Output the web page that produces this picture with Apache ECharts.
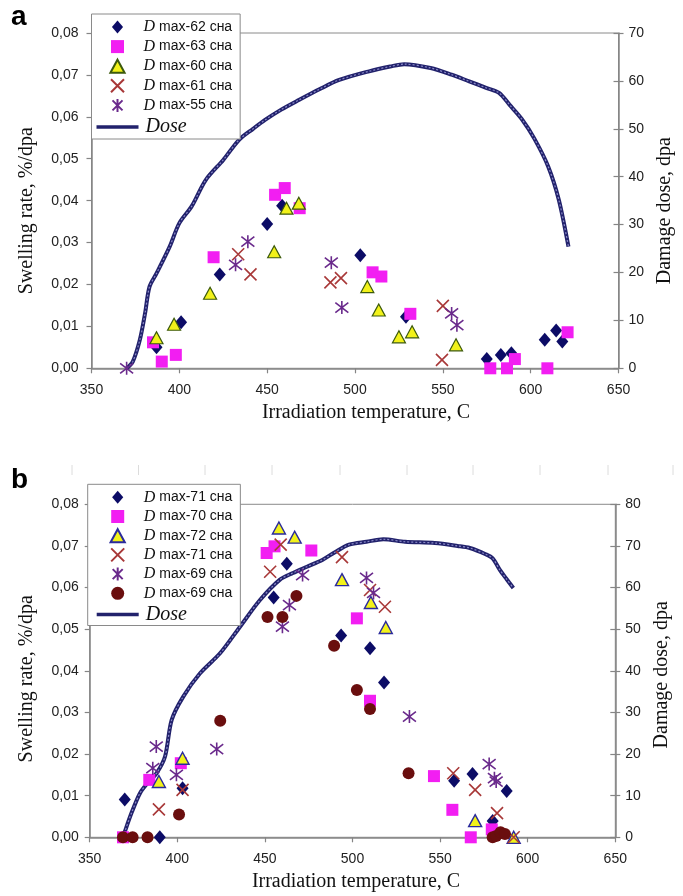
<!DOCTYPE html>
<html><head><meta charset="utf-8">
<script src="https://cdn.jsdelivr.net/npm/echarts@6/dist/echarts.min.js"></script>
<style>html,body{margin:0;padding:0;background:#fff}#c{width:683px;height:896px}</style>
</head><body><div id="c"></div>
<script>
// ---------- Panel a ----------
const a62T = [387, 401, 423, 450, 458.5, 503, 529, 575, 583, 589, 608, 614.5, 618];
const a62V = [0.005, 0.011, 0.0224, 0.0344, 0.0388, 0.027, 0.0123, 0.0022, 0.0032, 0.0036, 0.0068, 0.009, 0.0064];
const a63T = [385, 390, 398, 419.5, 454.5, 460, 468.5, 510, 515, 531.5, 577, 586.5, 591, 609.5, 621];
const a63V = [0.0062, 0.0016, 0.0032, 0.0265, 0.0414, 0.043, 0.0382, 0.0229, 0.0219, 0.013, 0, 0, 0.0022, 0, 0.0086];
const a60T = [387, 397, 417.5, 454, 461, 468, 507, 513.5, 525, 532.5, 557.5];
const a60V = [0.0073, 0.0105, 0.0179, 0.0278, 0.0382, 0.0394, 0.0195, 0.0139, 0.0075, 0.0087, 0.0056];
const a61T = [433.5, 440.5, 486, 492, 550, 549.5];
const a61V = [0.0272, 0.0224, 0.0205, 0.0215, 0.0149, 0.002];
const a55T = [370, 432, 439, 486.5, 492.5, 555, 558];
const a55V = [0, 0.0247, 0.0302, 0.0252, 0.0145, 0.0131, 0.0103];
const doseAT = [370, 373.5, 377.5, 380.5, 383, 387, 394.5, 400, 407, 415, 425, 434, 442, 449, 458, 468, 480, 491, 508, 520, 528, 543, 555, 565, 575, 582, 588, 595, 602, 610, 616, 621.5];
const doseAV = [0, 1.4, 5.9, 11.5, 17, 19.8, 25.4, 30.3, 33.8, 39.3, 43.5, 47.7, 50, 51.9, 54, 56, 58.3, 60.2, 62, 63, 63.5, 62.7, 61.3, 59.9, 58.5, 57.5, 55, 52, 48, 42.1, 35.2, 25.4];
const legendA = {a62: 'max-62 сна', a63: 'max-63 сна', a60: 'max-60 сна', a61: 'max-61 сна', a55: 'max-55 сна'};

// ---------- Panel b ----------
const b71dT = [370, 390, 403, 455, 462.5, 493.5, 510, 518, 558, 568.5, 580, 588];
const b71dV = [0.0091, 0, 0.0118, 0.0576, 0.0657, 0.0485, 0.0454, 0.0372, 0.0136, 0.0152, 0.0039, 0.0111];
const b70T = [369, 384, 402, 451, 455.5, 476.5, 502.5, 510, 546.5, 557, 567.5, 579.5];
const b70V = [0, 0.0138, 0.0178, 0.0683, 0.0699, 0.0689, 0.0526, 0.0328, 0.0147, 0.0066, 0, 0.0019];
const b72T = [389.5, 403, 458, 467, 494, 510.5, 519, 570, 592];
const b72V = [0.0134, 0.019, 0.0743, 0.0721, 0.0619, 0.0564, 0.0504, 0.004, 0];
const b71xT = [389.5, 403, 453, 459, 494, 510, 518.5, 557.5, 570, 582.5, 592];
const b71xV = [0.0067, 0.0114, 0.0638, 0.0703, 0.0673, 0.0594, 0.0554, 0.0154, 0.0114, 0.0058, 0];
const b69sT = [386, 388, 399.5, 422.5, 460, 464, 471.5, 508, 512, 532.5, 578, 581, 582];
const b69sV = [0.0166, 0.0218, 0.015, 0.0212, 0.0506, 0.0558, 0.063, 0.0623, 0.0587, 0.029, 0.0176, 0.0142, 0.0134];
const b69cT = [369, 374.5, 383, 401, 424.5, 451.5, 460, 468, 489.5, 502.5, 510, 532, 580, 582, 584.5, 587];
const b69cV = [0, 0, 0, 0.0055, 0.028, 0.0529, 0.0529, 0.058, 0.046, 0.0354, 0.0308, 0.0154, 0, 0.0003, 0.0012, 0.0008];
const doseBT = [369, 370, 374, 378.7, 383, 388.2, 393, 396.8, 403.4, 413, 424.4, 435.8, 447.2, 458.6, 466, 474, 483, 490, 498, 508, 517.6, 530, 547, 560, 567, 576, 580, 584, 588, 591.8];
const doseBV = [0, 1.3, 6, 10.6, 13, 15.4, 19.4, 28.2, 33.8, 39.4, 44.2, 50.6, 57, 61.9, 63.5, 65, 66.7, 68.5, 70.3, 71, 71.6, 71, 70.7, 70, 69.5, 68, 67, 64.3, 62, 59.9];
const legendB = {b71d: 'max-71 сна', b70: 'max-70 сна', b72: 'max-72 сна', b71x: 'max-71 сна', b69s: 'max-69 сна', b69c: 'max-69 сна'};

const xTicks = {min: 350, max: 650, step: 50};
const yLeftTicks = {min: 0, max: 0.08, step: 0.01};
const yRightA = {min: 0, max: 70, step: 10};
const yRightB = {min: 0, max: 80, step: 10};

const zip = (t, v) => t.map((x, i) => [x, v[i]]);

const C = {
  navy: '#0c0c66', mag: '#f21ef2', yel: '#f2f21a', triEdgeA: '#3c5a0c', triEdgeB: '#2a2a9c',
  cross: '#a83838', star: '#6a2a8c', circ: '#6a0e0e', dose: '#22226c', axis: '#858585', txt: '#222'
};
const DIAMOND = 'path://M6,0L12,7L6,14L0,7Z';
const SQUARE = 'path://M0,0H10V10H0Z';
const TRI = 'path://M6,0L12,11L0,11Z';
const XPATH = 'path://M0,0L10,10M10,0L0,10';
const STARPATH = 'path://M0,0L10,10M10,0L0,10M5,-1.5L5,11.5';
const DOSEICON = 'path://M0,0H40V3.2H0Z';

function scatter(name, t, v, xi, yi, sym, size, style) {
  return {name, type: 'scatter', xAxisIndex: xi, yAxisIndex: yi, data: zip(t, v),
    symbol: sym, symbolSize: size, itemStyle: Object.assign({opacity: 1}, style), z: 3};
}
const lineSym = (c) => ({color: 'rgba(0,0,0,0)', borderColor: c, borderWidth: 1.6});

function doseSeries(name, t, v, xi, yi) {
  return [
    {name, type: 'line', xAxisIndex: xi, yAxisIndex: yi, data: zip(t, v), symbol: 'none', smooth: 0.3,
      lineStyle: {color: C.dose, width: 4}, z: 2},
    {name: name + '_tex', type: 'line', xAxisIndex: xi, yAxisIndex: yi, data: zip(t, v), symbol: 'none', smooth: 0.3,
      lineStyle: {color: '#8a8ac8', width: 1.2, type: [2, 2]}, z: 2.5, silent: true}
  ];
}

const fmtL = v => v.toFixed(2).replace('.', ',');
const axisLineCfg = {show: true, lineStyle: {color: C.axis, width: 1.5}};
const labelFont = {fontFamily: 'Liberation Sans, Arial', fontSize: 14, color: C.txt};
const nameFont = {fontFamily: 'Liberation Serif, Times New Roman', fontSize: 20, color: '#111'};

function xAx(gi, padLeft) {
  return {gridIndex: gi, type: 'value', min: xTicks.min, max: xTicks.max, interval: xTicks.step,
    axisLine: axisLineCfg, axisTick: {show: true, length: 5, lineStyle: {color: C.axis, width: 1.2}},
    axisLabel: Object.assign({margin: 15}, labelFont), splitLine: {show: false},
    name: 'Irradiation temperature, C', nameLocation: 'middle', nameGap: 34,
    nameTextStyle: Object.assign({padding: [0, 0, 0, padLeft]}, nameFont)};
}
function yLeft(gi, margin, gap, shiftDown) {
  return {gridIndex: gi, type: 'value', position: 'left', min: yLeftTicks.min, max: yLeftTicks.max, interval: yLeftTicks.step,
    axisLine: axisLineCfg, axisTick: {show: true, length: 5, lineStyle: {color: C.axis, width: 1.2}},
    axisLabel: Object.assign({margin, formatter: fmtL}, labelFont), splitLine: {show: false},
    name: 'Swelling rate, %/dpa', nameLocation: 'middle', nameGap: gap, nameRotate: 90,
    nameTextStyle: Object.assign({padding: [0, shiftDown * 2, 0, 0]}, nameFont)};
}
function yRight(gi, r, gap, inside, shiftDown) {
  return {gridIndex: gi, type: 'value', position: 'right', min: r.min, max: r.max, interval: r.step,
    axisLine: inside ? {show: false} : axisLineCfg,
    axisTick: {show: true, inside: !!inside, length: 5, lineStyle: {color: C.axis, width: 1.2}},
    axisLabel: inside ? {show: false} : Object.assign({margin: 10}, labelFont), splitLine: {show: false},
    name: inside ? '' : 'Damage dose, dpa', nameLocation: 'middle', nameGap: gap, nameRotate: 90,
    nameTextStyle: Object.assign({padding: [0, (shiftDown || 0) * 2, 0, 0]}, nameFont)};
}

const richStyles = {
  d: {fontFamily: 'Liberation Serif, Times New Roman', fontStyle: 'italic', fontSize: 16, color: '#111', lineHeight: 16, padding: [0, 4, 0, 0]},
  m: {fontFamily: 'Liberation Sans, Arial', fontSize: 14, color: '#111', lineHeight: 16},
  dose: {fontFamily: 'Liberation Serif, Times New Roman', fontStyle: 'italic', fontSize: 20, color: '#111', lineHeight: 16, padding: [0, 0, 0, 2]}
};
function legendFmt(map) {
  return function (n) {
    if (n.indexOf('dose') === 0) return '{dose|Dose}';
    return '{d|D}{m|' + map[n] + '}';
  };
}

const series = [
  ...doseSeries('doseA', doseAT, doseAV, 0, 1),
  scatter('a62', a62T, a62V, 0, 0, DIAMOND, [12, 14], {color: C.navy}),
  scatter('a63', a63T, a63V, 0, 0, SQUARE, 12, {color: C.mag}),
  scatter('a60', a60T, a60V, 0, 0, TRI, [13, 12], {color: C.yel, borderColor: C.triEdgeA, borderWidth: 1.2}),
  scatter('a61', a61T, a61V, 0, 0, XPATH, 12, lineSym(C.cross)),
  scatter('a55', a55T, a55V, 0, 0, STARPATH, 13, lineSym(C.star)),
  ...doseSeries('doseB', doseBT, doseBV, 1, 4),
  scatter('b71d', b71dT, b71dV, 1, 3, DIAMOND, [12, 14], {color: C.navy}),
  scatter('b70', b70T, b70V, 1, 3, SQUARE, 12, {color: C.mag}),
  scatter('b72', b72T, b72V, 1, 3, TRI, [13, 12], {color: C.yel, borderColor: C.triEdgeB, borderWidth: 1.4}),
  scatter('b71x', b71xT, b71xV, 1, 3, XPATH, 12, lineSym(C.cross)),
  scatter('b69s', b69sT, b69sV, 1, 3, STARPATH, 13, lineSym(C.star)),
  scatter('b69c', b69cT, b69cV, 1, 3, 'circle', 12, {color: C.circ})
];

const legendBase = {
  orient: 'vertical', itemWidth: 42, itemHeight: 13, backgroundColor: '#fff', symbolKeepAspect: true,
  borderColor: '#8a8a8a', borderWidth: 1, borderRadius: 0, selectedMode: false,
  textStyle: {rich: richStyles, lineHeight: 16}, inactiveColor: '#ccc'
};
const doseItem = (n) => ({name: n, icon: DOSEICON, itemStyle: {color: C.dose, borderWidth: 0}});

// faint scan marks above panel b (decorative)
const scanMarksX = [72, 138.5, 205, 272, 340, 407, 473, 540, 608, 673];

const option = {
  backgroundColor: '#fff',
  animation: false,
  grid: [
    {left: 91.5, top: 33, width: 528.5, height: 335.3, show: true, borderColor: '#8a8a8a', borderWidth: 1},
    {left: 89.7, top: 504.3, width: 525.6, height: 333, show: true, borderColor: '#8a8a8a', borderWidth: 1}
  ],
  xAxis: [xAx(0, 22), xAx(1, 7)],
  yAxis: [
    yLeft(0, 13, 55, 10), yRight(0, yRightA, 31, false, 10), yRight(0, yRightA, 0, true),
    yLeft(1, 11, 53, 8), yRight(1, yRightB, 35, false, 4), yRight(1, yRightB, 0, true)
  ],
  legend: [
    Object.assign({}, legendBase, {left: 91.5, top: 14, padding: [5, 8, 2, 5], itemGap: 3.6,
      data: ['a62', 'a63', 'a60', 'a61', 'a55', doseItem('doseA')], formatter: legendFmt(legendA)}),
    Object.assign({}, legendBase, {left: 87.7, top: 484.3, padding: [5, 8, 1, 9], itemGap: 3.2,
      data: ['b71d', 'b70', 'b72', 'b71x', 'b69s', 'b69c', doseItem('doseB')], formatter: legendFmt(legendB)})
  ],
  graphic: [
    {type: 'text', left: 11, top: 3, style: {text: 'a', font: 'bold 28px "Liberation Sans", Arial', fill: '#000'}},
    {type: 'text', left: 11, top: 466, style: {text: 'b', font: 'bold 28px "Liberation Sans", Arial', fill: '#000'}},
    ...scanMarksX.map(x => ({type: 'line', shape: {x1: x, y1: 465, x2: x, y2: 475}, style: {stroke: '#dcdcdc', lineWidth: 1}, silent: true}))
  ],
  series
};
const chart = echarts.init(document.getElementById('c'), null, {renderer: 'canvas'});
chart.setOption(option);
</script>
</body></html>
